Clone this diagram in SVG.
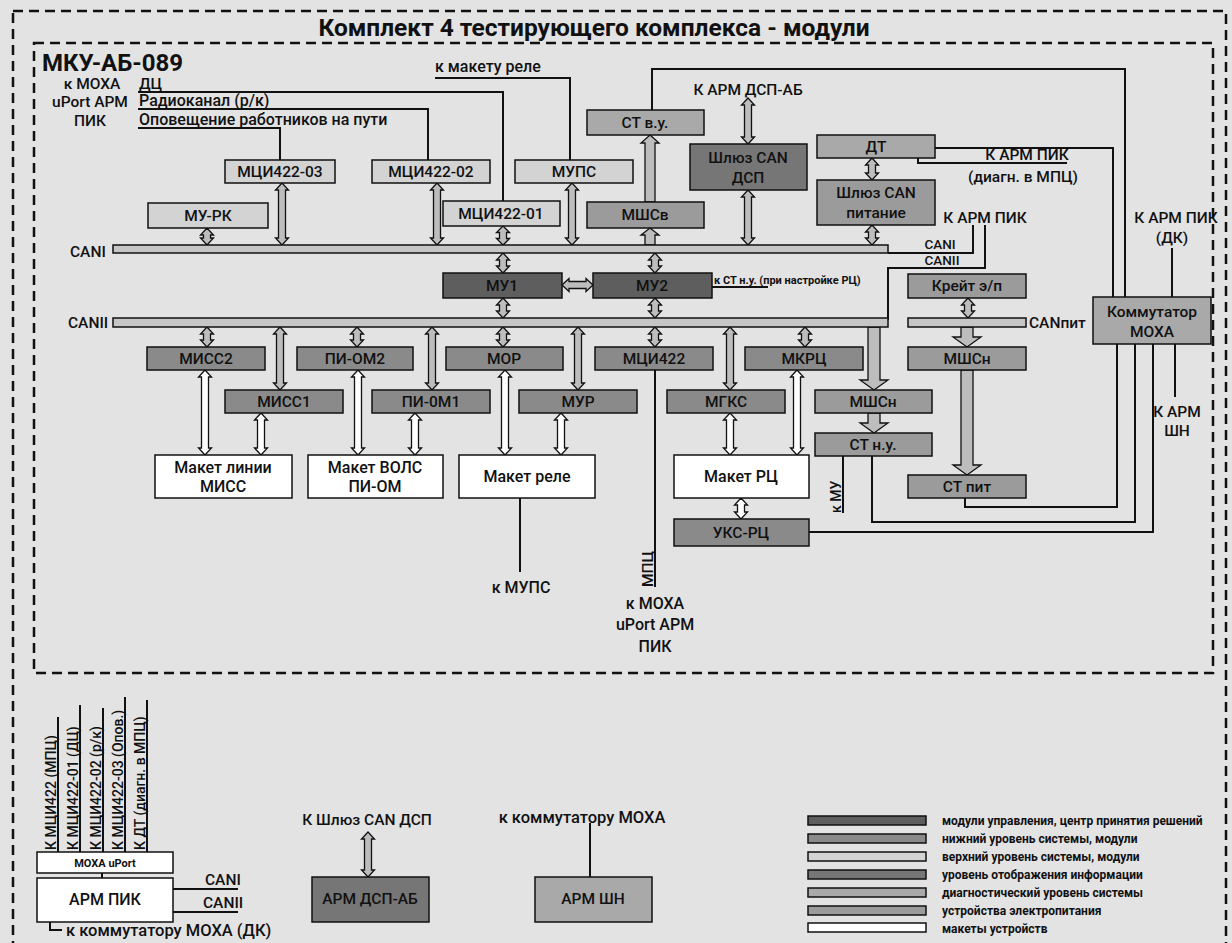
<svg xmlns="http://www.w3.org/2000/svg" width="1232" height="943" viewBox="0 0 1232 943">
<style>
.t{font-family:Roboto,"Liberation Sans","Noto Sans",sans-serif;font-size:15.5px;font-weight:500;fill:#111}
.m{text-anchor:middle}
.b{font-weight:bold}
.bx{stroke:#111;stroke-width:1.5}
.c1{fill:#5e5e5e}.c2{fill:#8a8a8a}.c3{fill:#d3d3d3}.c4{fill:#767676}.c5{fill:#a9a9a9}.c6{fill:#9b9b9b}.c7{fill:#fff}
.bus{fill:#c6c6c6;stroke:#111;stroke-width:1.5}
.ln{fill:none;stroke:#111;stroke-width:2}
.ag{fill:#bdbdbd;stroke:#111;stroke-width:1.3}
.aw{fill:#fff;stroke:#111;stroke-width:1.3}
.dash{fill:none;stroke:#111;stroke-width:2.5;stroke-dasharray:10 6}
.lg{font-family:Roboto,"Liberation Sans",sans-serif;font-size:12px;font-weight:bold;fill:#111}
</style>
<rect width="1232" height="943" fill="#e3e3e3"/>
<rect class="dash" x="13" y="11" width="1213" height="945"/>
<rect class="dash" x="34" y="43" width="1179" height="630"/>
<text class="t m b" x="594" y="36" style="font-size:24.5px">Комплект 4 тестирующего комплекса - модули</text>
<text class="t b" x="42" y="71" style="font-size:24px">МКУ-АБ-089</text>
<g id="left-labels">
<text class="t m" x="92" y="89">к МОХА</text>
<text class="t m" x="90" y="107">uPort АРМ</text>
<text class="t m" x="90" y="126">ПИК</text>
<text class="t" x="139" y="89">ДЦ</text>
<text class="t" x="139" y="106" style="font-size:16px">Радиоканал (р/к)</text>
<text class="t" x="139" y="125" style="font-size:16px">Оповещение работников на пути</text>
<text class="t" x="435" y="72" style="font-size:16px">к макету реле</text>
<text class="t m" x="748" y="95">К АРМ ДСП-АБ</text>
<text class="t m" x="1027" y="160">К АРМ ПИК</text>
<text class="t m" x="1023" y="182">(диагн. в МПЦ)</text>
<text class="t m" x="985" y="223">К АРМ ПИК</text>
<text class="t m" x="940" y="249" style="font-size:13.5px">CANI</text>
<text class="t m" x="942" y="265" style="font-size:13.5px">CANII</text>
<text class="t m" x="1176" y="223">К АРМ ПИК</text>
<text class="t m" x="1172" y="243">(ДК)</text>
<text class="t m" x="1177" y="417">К АРМ</text>
<text class="t m" x="1177" y="436">ШН</text>
<text class="t" x="70" y="257">CANI</text>
<text class="t" x="68" y="328">CANII</text>
<text class="t" x="1029" y="328">CANпит</text>
<text class="t b" x="714" y="284" style="font-size:11px">к СТ н.у. (при настройке РЦ)</text>
<text class="t m" x="521" y="593" style="font-size:16px">к МУПС</text>
<text class="t m" x="655" y="609" style="font-size:16px">к МОХА</text>
<text class="t m" x="655" y="630" style="font-size:16px">uPort АРМ</text>
<text class="t m" x="655" y="652" style="font-size:16px">ПИК</text>
<text class="t" transform="translate(653 587) rotate(-90)">МПЦ</text>
<text class="t" style="font-size:14px" transform="translate(841 513) rotate(-90)">к МУ</text>
</g>
<g id="connectors">
<path class="ln" d="M138 92H503V201"/>
<path class="ln" d="M138 109H428V160"/>
<path class="ln" d="M138 128H280V160"/>
<path class="ln" d="M435 78H570V160"/>
<path class="ln" d="M652 110V69H1125V297"/>
<path class="ln" d="M935 148H1113V297"/>
<path class="ln" d="M918 158V163H1067"/>
<path class="ln" d="M1172 248V297"/>
<path class="ln" d="M888 253H973V225"/>
<path class="ln" d="M888 320V268H985V225"/>
<path class="ln" d="M712 287H768"/>
<path class="ln" d="M1117 344V507H965V498"/>
<path class="ln" d="M1135 344V522H872V456"/>
<path class="ln" d="M1153 344V532H809"/>
<path class="ln" d="M1175 344V397"/>
<path class="ln" d="M843 456V513"/>
<path class="ln" d="M655 370V587"/>
<path class="ln" d="M520 498V572"/>
<path class="ln" d="M102 873V878"/>
<path class="ln" d="M173 889H238"/>
<path class="ln" d="M173 912H238"/>
<path class="ln" d="M50 922V930H62"/>
<path class="ln" d="M590 823V877"/>
<path class="ln" d="M58 717V852M80 705V852M103 708V852M125 697V852M147 700V852"/>
<path class="ag" d="M207 228l6.5 7h-3v3h3l-6.5 7l-6.5-7h3v-3h-3z"/>
<path class="ag" d="M282 183l6.5 7h-3v48h3l-6.5 7l-6.5-7h3v-48h-3z"/>
<path class="ag" d="M437 183l6.5 7h-3v48h3l-6.5 7l-6.5-7h3v-48h-3z"/>
<path class="ag" d="M503 226l6.5 6.5h-3v6h3l-6.5 6.5l-6.5-6.5h3v-6h-3z"/>
<path class="ag" d="M572 183l6.5 7h-3v48h3l-6.5 7l-6.5-7h3v-48h-3z"/>
<path class="ag" d="M748 190l6.5 7h-3v41h3l-6.5 7l-6.5-7h3v-41h-3z"/>
<path class="ag" d="M748 98l6.5 7h-3v32h3l-6.5 7l-6.5-7h3v-32h-3z"/>
<path class="ag" d="M872 158l6.5 7h-3v8h3l-6.5 7l-6.5-7h3v-8h-3z"/>
<path class="ag" d="M872 225l6.5 7h-3v6h3l-6.5 7l-6.5-7h3v-6h-3z"/>
<path class="ag" d="M503 253l6.5 7h-3v6h3l-6.5 7l-6.5-7h3v-6h-3z"/>
<path class="ag" d="M655 253l6.5 7h-3v6h3l-6.5 7l-6.5-7h3v-6h-3z"/>
<path class="ag" d="M503 298l6.5 7h-3v6h3l-6.5 7l-6.5-7h3v-6h-3z"/>
<path class="ag" d="M655 298l6.5 7h-3v6h3l-6.5 7l-6.5-7h3v-6h-3z"/>
<path class="ag" d="M207 327l6.5 7h-3v6h3l-6.5 7l-6.5-7h3v-6h-3z"/>
<path class="ag" d="M280 327l6.5 7h-3v49h3l-6.5 7l-6.5-7h3v-49h-3z"/>
<path class="ag" d="M357 327l6.5 7h-3v6h3l-6.5 7l-6.5-7h3v-6h-3z"/>
<path class="ag" d="M432 327l6.5 7h-3v49h3l-6.5 7l-6.5-7h3v-49h-3z"/>
<path class="ag" d="M503 327l6.5 7h-3v6h3l-6.5 7l-6.5-7h3v-6h-3z"/>
<path class="ag" d="M578 327l6.5 7h-3v49h3l-6.5 7l-6.5-7h3v-49h-3z"/>
<path class="ag" d="M655 327l6.5 7h-3v6h3l-6.5 7l-6.5-7h3v-6h-3z"/>
<path class="ag" d="M730 327l6.5 7h-3v49h3l-6.5 7l-6.5-7h3v-49h-3z"/>
<path class="ag" d="M805 327l6.5 7h-3v6h3l-6.5 7l-6.5-7h3v-6h-3z"/>
<path class="ag" d="M968 298l6.5 7h-3v6h3l-6.5 7l-6.5-7h3v-6h-3z"/>
<path class="ag" d="M368 832l6.5 7h-3v31h3l-6.5 7l-6.5-7h3v-31h-3z"/>
<path class="ag" d="M562 285l7-6.5v3h17v-3l7 6.5l-7 6.5v-3h-17v3z"/>
<path class="aw" d="M205 370l6.5 7h-3v71h3l-6.5 7l-6.5-7h3v-71h-3z"/>
<path class="aw" d="M261 413l6.5 7h-3v28h3l-6.5 7l-6.5-7h3v-28h-3z"/>
<path class="aw" d="M358 370l6.5 7h-3v71h3l-6.5 7l-6.5-7h3v-71h-3z"/>
<path class="aw" d="M415 413l6.5 7h-3v28h3l-6.5 7l-6.5-7h3v-28h-3z"/>
<path class="aw" d="M505 370l6.5 7h-3v71h3l-6.5 7l-6.5-7h3v-71h-3z"/>
<path class="aw" d="M561 413l6.5 7h-3v28h3l-6.5 7l-6.5-7h3v-28h-3z"/>
<path class="aw" d="M730 413l6.5 7h-3v28h3l-6.5 7l-6.5-7h3v-28h-3z"/>
<path class="aw" d="M797 370l6.5 7h-3v71h3l-6.5 7l-6.5-7h3v-71h-3z"/>
<path class="aw" d="M741 498l6.5 7h-3v7h3l-6.5 7l-6.5-7h3v-7h-3z"/>
<path class="ag" d="M650 228l9 7h-4v10h-10v-10h-4z"/>
<path class="ag" d="M650 135l9 8h-4v59h-10v-59h-4z"/>
<path class="ag" d="M868 327h12v53h8l-14 10l-14-10h8z"/>
<path class="ag" d="M868 413h12v10h8l-14 10l-14-10h8z"/>
<path class="ag" d="M961 327h12v10h8l-14 10l-14-10h8z"/>
<path class="ag" d="M961 370h12v95h8l-14 10l-14-10h8z"/>
</g>
<g id="buses">
<rect class="bus" x="113" y="245" width="775" height="8"/>
<rect class="bus" x="113" y="318" width="775" height="9"/>
<rect class="bus" x="908" y="318" width="118" height="9"/>
</g>
<g id="n-mci03"><rect class="bx c3" x="225" y="160" width="110" height="23"/><text class="t m" x="280" y="177">МЦИ422-03</text></g>
<g id="n-mci02"><rect class="bx c3" x="372" y="160" width="118" height="23"/><text class="t m" x="431" y="177">МЦИ422-02</text></g>
<g id="n-mups"><rect class="bx c3" x="515" y="160" width="118" height="23"/><text class="t m" x="574" y="177">МУПС</text></g>
<g id="n-mci01"><rect class="bx c3" x="443" y="201" width="117" height="25"/><text class="t m" x="501" y="219">МЦИ422-01</text></g>
<g id="n-murk"><rect class="bx c3" x="148" y="203" width="120" height="25"/><text class="t m" x="208" y="221">МУ-РК</text></g>
<g id="n-stvu"><rect class="bx c5" x="587" y="110" width="117" height="25"/><text class="t m" x="645" y="128">СТ в.у.</text></g>
<g id="n-mshsv"><rect class="bx c6" x="587" y="202" width="117" height="26"/><text class="t m" x="645" y="220">МШСв</text></g>
<g id="n-shdsp"><rect class="bx c4" x="690" y="144" width="117" height="46"/><text class="t m" x="748" y="163">Шлюз CAN</text><text class="t m" x="748" y="183">ДСП</text></g>
<g id="n-dt"><rect class="bx c5" x="817" y="135" width="118" height="23"/><text class="t m" x="876" y="152">ДТ</text></g>
<g id="n-shpit"><rect class="bx c6" x="817" y="180" width="118" height="45"/><text class="t m" x="876" y="198">Шлюз CAN</text><text class="t m" x="876" y="218">питание</text></g>
<g id="n-mu1"><rect class="bx c1" x="443" y="273" width="119" height="25"/><text class="t m" x="502" y="291">МУ1</text></g>
<g id="n-mu2"><rect class="bx c1" x="593" y="273" width="119" height="25"/><text class="t m" x="652" y="291">МУ2</text></g>
<g id="n-kreit"><rect class="bx c6" x="908" y="274" width="118" height="24"/><text class="t m" x="967" y="291">Крейт э/п</text></g>
<g id="n-mshsn2"><rect class="bx c6" x="908" y="347" width="118" height="23"/><text class="t m" x="967" y="364">МШСн</text></g>
<g id="n-moxa"><rect class="bx c5" x="1093" y="297" width="118" height="47"/><text class="t m" x="1152" y="317">Коммутатор</text><text class="t m" x="1152" y="337">МОХА</text></g>
<g id="n-miss2"><rect class="bx c2" x="147" y="347" width="118" height="23"/><text class="t m" x="206" y="364">МИСС2</text></g>
<g id="n-piom2"><rect class="bx c2" x="297" y="347" width="116" height="23"/><text class="t m" x="355" y="364">ПИ-ОМ2</text></g>
<g id="n-mor"><rect class="bx c2" x="446" y="347" width="117" height="23"/><text class="t m" x="504" y="364">МОР</text></g>
<g id="n-mci422"><rect class="bx c2" x="595" y="347" width="118" height="23"/><text class="t m" x="654" y="364">МЦИ422</text></g>
<g id="n-mkrc"><rect class="bx c2" x="745" y="347" width="118" height="23"/><text class="t m" x="804" y="364">МКРЦ</text></g>
<g id="n-miss1"><rect class="bx c2" x="225" y="390" width="118" height="23"/><text class="t m" x="284" y="407">МИСС1</text></g>
<g id="n-piom1"><rect class="bx c2" x="372" y="390" width="118" height="23"/><text class="t m" x="431" y="407">ПИ-0М1</text></g>
<g id="n-mur"><rect class="bx c2" x="519" y="390" width="118" height="23"/><text class="t m" x="578" y="407">МУР</text></g>
<g id="n-mgks"><rect class="bx c2" x="667" y="390" width="118" height="23"/><text class="t m" x="726" y="407">МГКС</text></g>
<g id="n-mshsn1"><rect class="bx c6" x="815" y="390" width="117" height="23"/><text class="t m" x="873" y="407">МШСн</text></g>
<g id="n-stnu"><rect class="bx c6" x="815" y="433" width="117" height="23"/><text class="t m" x="873" y="450">СТ н.у.</text></g>
<g id="n-stpit"><rect class="bx c6" x="908" y="475" width="118" height="23"/><text class="t m" x="967" y="492">СТ пит</text></g>
<g id="n-mak-miss"><rect class="bx c7" x="155" y="455" width="137" height="43"/><text class="t m" x="223" y="473" style="font-size:16px">Макет линии</text><text class="t m" x="223" y="492" style="font-size:16px">МИСС</text></g>
<g id="n-mak-vols"><rect class="bx c7" x="308" y="455" width="135" height="43"/><text class="t m" x="375" y="473" style="font-size:16px">Макет ВОЛС</text><text class="t m" x="375" y="492" style="font-size:16px">ПИ-ОМ</text></g>
<g id="n-mak-rele"><rect class="bx c7" x="459" y="455" width="136" height="43"/><text class="t m" x="527" y="482" style="font-size:16px">Макет реле</text></g>
<g id="n-mak-rc"><rect class="bx c7" x="674" y="455" width="135" height="43"/><text class="t m" x="741" y="482" style="font-size:16px">Макет РЦ</text></g>
<g id="n-uksrc"><rect class="bx c2" x="674" y="519" width="135" height="27"/><text class="t m" x="741" y="538">УКС-РЦ</text></g>
<g id="n-moxa-uport"><rect class="bx c7" x="37" y="852" width="136" height="21"/><text class="t m b" x="105" y="867" style="font-size:11px">MOXA uPort</text></g>
<g id="n-arm-pik"><rect class="bx c7" x="37" y="878" width="136" height="44"/><text class="t m" x="105" y="905" style="font-size:16px">АРМ ПИК</text></g>
<g id="n-arm-dsp"><rect class="bx c4" x="312" y="877" width="117" height="45"/><text class="t m" x="370" y="904">АРМ ДСП-АБ</text></g>
<g id="n-arm-shn"><rect class="bx c5" x="535" y="877" width="117" height="45"/><text class="t m" x="593" y="904">АРМ ШН</text></g>
<g id="bottom-labels">
<text class="t" style="font-size:14px" transform="translate(56 850) rotate(-90)">К МЦИ422 (МПЦ)</text>
<text class="t" style="font-size:14px" transform="translate(78 850) rotate(-90)">К МЦИ422-01 (ДЦ)</text>
<text class="t" style="font-size:14px" transform="translate(101 850) rotate(-90)">К МЦИ422-02 (р/к)</text>
<text class="t" style="font-size:14px" transform="translate(123 850) rotate(-90)">К МЦИ422-03 (Опов.)</text>
<text class="t" style="font-size:14px" transform="translate(145 850) rotate(-90)">К ДТ (диагн. в МПЦ)</text>
<text class="t" x="205" y="885">CANI</text>
<text class="t" x="203" y="908">CANII</text>
<text class="t" x="66" y="936" style="font-size:16.5px">к коммутатору МОХА (ДК)</text>
<text class="t m" x="367" y="825">К Шлюз CAN ДСП</text>
<text class="t m" x="582" y="823" style="font-size:16.5px">к коммутатору МОХА</text>
</g>
<g id="legend">
<rect class="bx c1" x="808" y="816" width="118" height="9"/>
<rect class="bx c2" x="808" y="834" width="118" height="9"/>
<rect class="bx c3" x="808" y="852" width="118" height="9"/>
<rect class="bx c4" x="808" y="870" width="118" height="9"/>
<rect class="bx c5" x="808" y="888" width="118" height="9"/>
<rect class="bx c6" x="808" y="906" width="118" height="9"/>
<rect class="bx c7" x="808" y="923" width="118" height="9"/>
<text class="lg" x="942" y="825">модули управления, центр принятия решений</text>
<text class="lg" x="942" y="843">нижний уровень системы, модули</text>
<text class="lg" x="942" y="861">верхний уровень системы, модули</text>
<text class="lg" x="942" y="879">уровень отображения информации</text>
<text class="lg" x="942" y="897">диагностический уровень системы</text>
<text class="lg" x="942" y="915">устройства электропитания</text>
<text class="lg" x="942" y="933">макеты устройств</text>
</g>
</svg>
